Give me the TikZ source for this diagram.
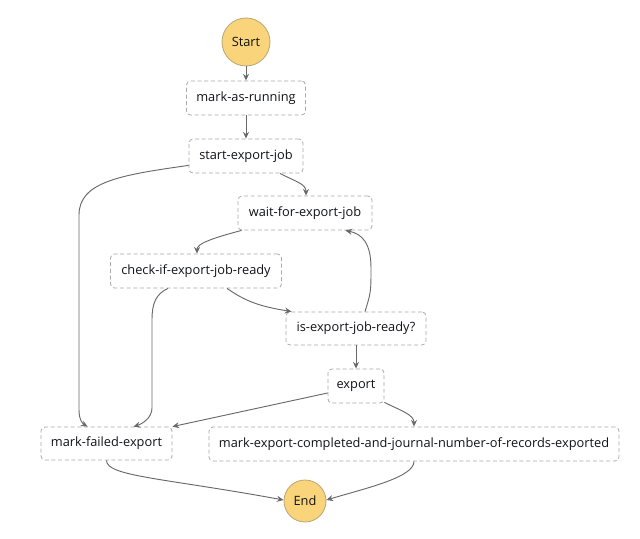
\documentclass[tikz,border=0pt]{standalone}
\usepackage{fontspec}
\setmainfont{Open Sans}
\usetikzlibrary{calc,arrows.meta}
\definecolor{boxline}{RGB}{168,168,168}
\definecolor{arrowc}{RGB}{105,105,105}
\definecolor{termfill}{RGB}{249,212,122}
\definecolor{termline}{RGB}{185,165,115}
\definecolor{txt}{RGB}{16,18,22}
\tikzset{
  state/.style={draw=boxline, line width=0.6pt, dash pattern=on 3pt off 2pt,
    rounded corners=3pt, minimum height=25.5pt, inner sep=0pt,
    font=\fontsize{9.6}{11.5}\selectfont, text=txt},
  term/.style={circle, draw=termline, fill=termfill, line width=0.6pt, inner sep=0pt,
    font=\fontsize{9.6}{11.5}\selectfont, text=txt},
  conn/.style={draw=arrowc, line width=0.7pt, -{Stealth[length=5pt,width=4.5pt]}}
}
\begin{document}
\begin{tikzpicture}[x=0.75pt,y=-0.75pt]
\useasboundingbox (0,0) rectangle (640,539);
\node[term, minimum size=36pt] (start) at (246,42) {Start};
\node[state, minimum width=89.25pt] (mar) at (246,98) {mark-as-running};
\node[state, minimum width=85.5pt] (sej) at (246,156) {start-export-job};
\node[state, minimum width=100.5pt] (wfe) at (305,213) {wait-for-export-job};
\node[state, minimum width=128.25pt] (cie) at (196,271) {check-if-export-job-ready};
\node[state, minimum width=105pt, minimum height=24.75pt] (iej) at (356,328.5) {is-export-job-ready?};
\node[state, minimum width=42pt] (exp) at (356,386) {export};
\node[state, minimum width=98.25pt, minimum height=24.75pt] (mfe) at (106.5,443.5) {mark-failed-export};
\node[state, minimum width=307.5pt] (mec) at (414,444) {mark-export-completed-and-journal-number-of-records-exported};
\node[term, minimum size=31.5pt] (end) at (305,501) {End};

\draw[conn] (start.south) -- (mar.north);
\draw[conn] (mar.south) -- (sej.north);
\draw[conn] ($(sej.south west)+(0,-8)$) .. controls (120,175) and (79,182) .. (79,215)
  -- (79,410) .. controls (79,420) and (83,424) .. ($(mfe.north west)+(47,0)$);
\draw[conn] ($(sej.south)+(34,0)$) .. controls +(15,8) and +(0,-12) .. ($(wfe.north)+(1,0)$);
\draw[conn] ($(wfe.south west)+(4,0)$) .. controls +(-30,8) and +(0,-10) .. ($(cie.north)+(1,0)$);
\draw[conn] ($(cie.south)+(31,0)$) .. controls +(20,14) and +(-30,-5) .. ($(iej.north west)+(6,0)$);
\draw[conn] ($(cie.south)+(-28,0)$) .. controls (156,294) and (152,303) .. (152,320)
  -- (152,408) .. controls (152,418) and (142,424) .. ($(mfe.north)+(27,0)$);
\draw[conn] ($(iej.north)+(9,0)$) .. controls (371,292) .. (371,268)
  .. controls (371,243) and (362,234) .. ($(wfe.south east)+(-27,0)$);
\draw[conn] (iej.south) -- (exp.north);
\draw[conn] ($(exp.west)+(0,7)$) -- (mfe.north east);
\draw[conn] ($(exp.south east)+(0,-1)$) .. controls +(16,8) and +(0,-12) .. (mec.north);
\draw[conn] (mfe.south) .. controls +(0,16) and +(-120,-22) .. ($(end.west)+(0,-1)$);
\draw[conn] (mec.south) .. controls +(0,16) and +(40,-12) .. ($(end.east)+(0,-1)$);
\end{tikzpicture}
\end{document}
